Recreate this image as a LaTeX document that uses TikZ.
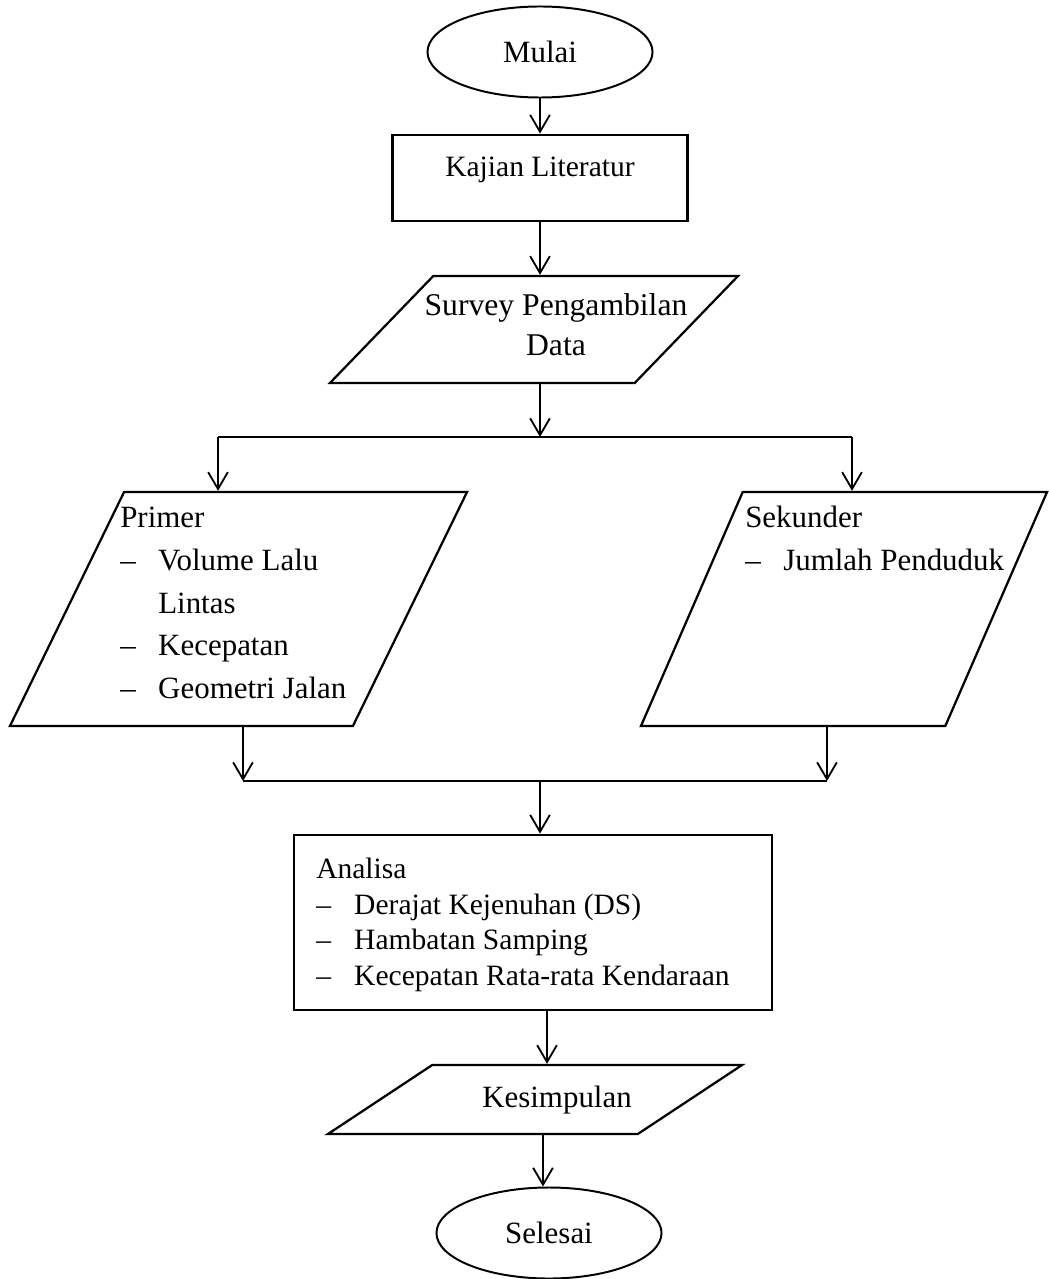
\documentclass[tikz,border=0pt]{standalone}
\usepackage{fontspec}
\setmainfont{Liberation Serif}
\usetikzlibrary{shapes.geometric,arrows.meta}
\newcommand{\dsh}{\makebox[27pt][l]{--}}

\begin{document}
\begin{tikzpicture}[x=0.025cm, y=-0.025cm,
      term/.style={draw, ellipse, line width=1.4pt, inner sep=0pt, minimum width=5.625cm, minimum height=2.275cm},
      proc/.style={draw, rectangle, line width=2pt, inner sep=0pt},
      io/.style={draw, trapezium, trapezium stretches body, line width=1.6pt, inner xsep=0pt},
      arr/.style={line width=1.3pt, -{Straight Barb[length=12pt,width=14pt]}},
      font=\fontsize{22}{30.5}\selectfont]
      \useasboundingbox (0,0) rectangle (1048,1279);

      % Mulai, Kajian Literatur
      \node (mulai) at (540,52) [term] {Mulai};
      \node (kajian) at (540,178) [proc, minimum width=7.375cm, minimum height=2.15cm, text depth=15.5pt, font=\fontsize{21}{25}\selectfont] {Kajian Literatur};

      % Survey Pengambilan Data
      \node (survey) at (534,329.5) [io, trapezium left angle=46, trapezium right angle=134, minimum width=10.2cm, inner ysep=1.3375cm] {};
      \node (surveytxt) at (556,325) [align=center, inner sep=0pt, font=\fontsize{22.5}{28.5}\selectfont] {Survey Pengambilan\\Data};
      \coordinate (spL) at (218,437);
      \coordinate (spM) at (540,437);
      \coordinate (spR) at (852,437);

      % Primer, Sekunder
      \node (primer) at (238.5,609) [io, trapezium left angle=64, trapezium right angle=116, minimum width=11.425cm, inner ysep=2.925cm] {};
      \node (primertxt) at (120,603) [anchor=west, align=left, inner sep=0pt] {Primer\\\dsh Volume Lalu\\\hspace*{27pt}Lintas\\\dsh Kecepatan\\\dsh Geometri Jalan};

      \node (sekunder) at (844,609) [io, trapezium left angle=66.5, trapezium right angle=113.5, minimum width=10.15cm, inner ysep=2.925cm] {};
      \node (sekundertxt) at (745,538) [anchor=west, align=left, inner sep=0pt] {Sekunder\\\dsh Jumlah Penduduk};
      \coordinate (mgL) at (243,781);
      \coordinate (mgM) at (540,781);
      \coordinate (mgR) at (827,781);

      % Analisa
      \node (analisa) at (533,922.5) [proc, minimum width=11.95cm, minimum height=4.375cm] {};
      \node (analisatxt) at (316,925) [anchor=west, align=left, inner sep=0pt, font=\fontsize{21}{25.4}\selectfont] {Analisa\\\dsh Derajat Kejenuhan (DS)\\\dsh Hambatan Samping\\\dsh Kecepatan Rata-rata Kendaraan};
      \coordinate (anOut) at ([xshift=.35cm]analisa.south);

      % Kesimpulan, Selesai
      \node (kesimpulan) at (535,1099.5) [io, trapezium left angle=33.5, trapezium right angle=146.5, minimum width=10.35cm, inner ysep=.8625cm] {};
      \node (kesimpulantxt) at (557,1100) [inner sep=0pt] {Kesimpulan};
      \node (selesai) at (549,1233) [term] {Selesai};
      \coordinate (seIn) at ([xshift=-.15cm]selesai.north);

      \draw[arr] (mulai.south) -- (kajian.north);
      \draw[arr] (kajian.south) -- (kajian.south |- survey.north);
      \draw[arr] (survey.south -| spM) -- (spM);
      \draw[line width=1.3pt] (spL) -- (spR);
      \draw[arr] (spL) -- (spL |- primer.north);
      \draw[arr] (spR) -- (spR |- sekunder.north);
      \draw[arr] (mgL |- primer.south) -- (mgL);
      \draw[arr] (mgR |- sekunder.south) -- (mgR);
      \draw[line width=1.3pt] (mgL) -- (mgR);
      \draw[arr] (mgM) -- (mgM |- analisa.north);
      \draw[arr] (anOut) -- (anOut |- kesimpulan.north);
      \draw[arr] (seIn |- kesimpulan.south) -- (seIn);

    \end{tikzpicture}
\end{document}
